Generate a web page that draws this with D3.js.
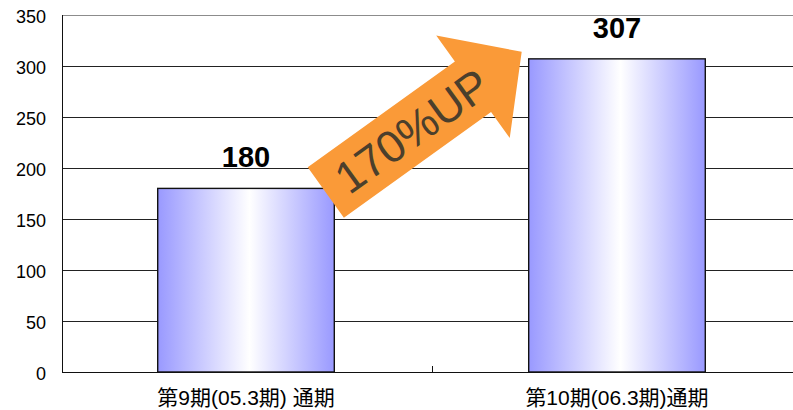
<!DOCTYPE html>
<html lang="ja">
<head>
<meta charset="utf-8">
<script src="https://cdn.jsdelivr.net/npm/d3@7"></script>
<style>
  body { margin: 0; background: #fff; }
  svg { display: block; }
  text { font-family: "Liberation Sans", Arial, "Noto Sans CJK JP", sans-serif; }
</style>
</head>
<body>
<svg width="793" height="410"></svg>
<script>
// data
const categories = ["第9期(05.3期) 通期", "第10期(06.3期)通期"];
const values = [180, 307];
const yTicks = [0, 50, 100, 150, 200, 250, 300, 350];
const arrowLabel = "170%UP";
const arrowFrom = 176, arrowTo = 314;   // value levels the arrow runs between

const svg = d3.select("svg"),
    margin = {top: 15, right: -8, bottom: 38, left: 62},
    width = +svg.attr("width") - margin.left - margin.right,
    height = +svg.attr("height") - margin.top - margin.bottom;

const x = d3.scaleBand()
    .domain(categories)
    .range([0, width])
    .paddingInner(0.524)
    .paddingOuter(0.258);

const y = d3.scaleLinear()
    .domain([0, 350])
    .range([height, 0]);

const g = svg.append("g")
    .attr("transform", `translate(${margin.left},${margin.top})`);

// gradient for bars
const grad = svg.append("defs").append("linearGradient")
    .attr("id", "barGrad")
    .attr("x1", "0%").attr("x2", "100%").attr("y1", "0%").attr("y2", "0%");
grad.append("stop").attr("offset", "0%").attr("stop-color", "#9999ff");
grad.append("stop").attr("offset", "52%").attr("stop-color", "#ffffff");
grad.append("stop").attr("offset", "100%").attr("stop-color", "#9999ff");

// gridlines
g.selectAll(".grid")
    .data(yTicks.filter(d => d > 0))
    .enter().append("line")
    .attr("class", "grid")
    .attr("x1", 0)
    .attr("x2", width)
    .attr("y1", d => Math.round(y(d)) + 0.5)
    .attr("y2", d => Math.round(y(d)) + 0.5)
    .attr("stroke", d => d === 350 ? "#8c8c8c" : "#222")
    .attr("stroke-width", 1);

// y tick labels
g.selectAll(".ylab")
    .data(yTicks)
    .enter().append("text")
    .attr("class", "ylab")
    .attr("x", -16)
    .attr("y", d => y(d) + 2)
    .attr("dy", "0.35em")
    .attr("text-anchor", "end")
    .style("font-size", "18px")
    .attr("fill", "#000")
    .text(d => d);

// bars
g.selectAll(".bar")
    .data(values)
    .enter().append("rect")
    .attr("class", "bar")
    .attr("x", (d, i) => x(categories[i]))
    .attr("y", d => y(d))
    .attr("width", x.bandwidth())
    .attr("height", d => y(0) - y(d))
    .attr("fill", "url(#barGrad)")
    .attr("stroke", "#111")
    .attr("stroke-width", 1.4);

// value labels
g.selectAll(".vlab")
    .data(values)
    .enter().append("text")
    .attr("class", "vlab")
    .attr("x", (d, i) => x(categories[i]) + x.bandwidth() / 2)
    .attr("y", d => y(d) - 21)
    .attr("text-anchor", "middle")
    .style("font-size", "29px")
    .style("font-weight", "bold")
    .attr("fill", "#000")
    .text(d => d);

// axes lines
g.append("line")
    .attr("x1", 0.5).attr("x2", 0.5)
    .attr("y1", 0).attr("y2", height)
    .attr("stroke", "#111");
g.append("line")
    .attr("x1", 0).attr("x2", width)
    .attr("y1", height + 0.5).attr("y2", height + 0.5)
    .attr("stroke", "#111");

// x ticks between categories (pointing up into the plot)
const tickPos = [0, x(categories[1]) - x.step() * x.paddingInner() / 2, width];
g.selectAll(".xtick")
    .data(tickPos)
    .enter().append("line")
    .attr("class", "xtick")
    .attr("x1", d => Math.round(d) + 0.5)
    .attr("x2", d => Math.round(d) + 0.5)
    .attr("y1", height - 6)
    .attr("y2", height)
    .attr("stroke", "#111");

// x labels
g.selectAll(".xlab")
    .data(categories)
    .enter().append("text")
    .attr("class", "xlab")
    .attr("x", d => x(d) + x.bandwidth() / 2)
    .attr("y", height + 33)
    .attr("text-anchor", "middle")
    .style("font-size", "21px")
    .attr("fill", "#000")
    .text(d => d);

// growth arrow from bar 1 to bar 2
const tail = [x(categories[0]) + x.bandwidth() - 8.5, y(arrowFrom)],
    tip = [x(categories[1]) - 7, y(arrowTo)];
const dx = tip[0] - tail[0], dy = tip[1] - tail[1];
const L = Math.sqrt(dx * dx + dy * dy),
    angle = Math.atan2(dy, dx) * 180 / Math.PI;
const headLen = 60, headHalf = 63, shaftHalf = 31;

const arrow = g.append("g")
    .attr("transform", `translate(${tail[0]},${tail[1]}) rotate(${angle})`);

arrow.append("path")
    .attr("d", d3.line()([
        [0, -shaftHalf], [L - headLen, -shaftHalf], [L - headLen, -headHalf],
        [L, 0], [L - headLen, headHalf], [L - headLen, shaftHalf], [0, shaftHalf]
    ]) + "Z")
    .attr("fill", "#fa9a38");

arrow.append("text")
    .attr("x", 106)
    .attr("y", 0)
    .attr("dy", "0.36em")
    .attr("text-anchor", "middle")
    .style("font-size", "45px")
    .attr("fill", "#4b3f2c")
    .text(arrowLabel);
</script>
</body>
</html>
